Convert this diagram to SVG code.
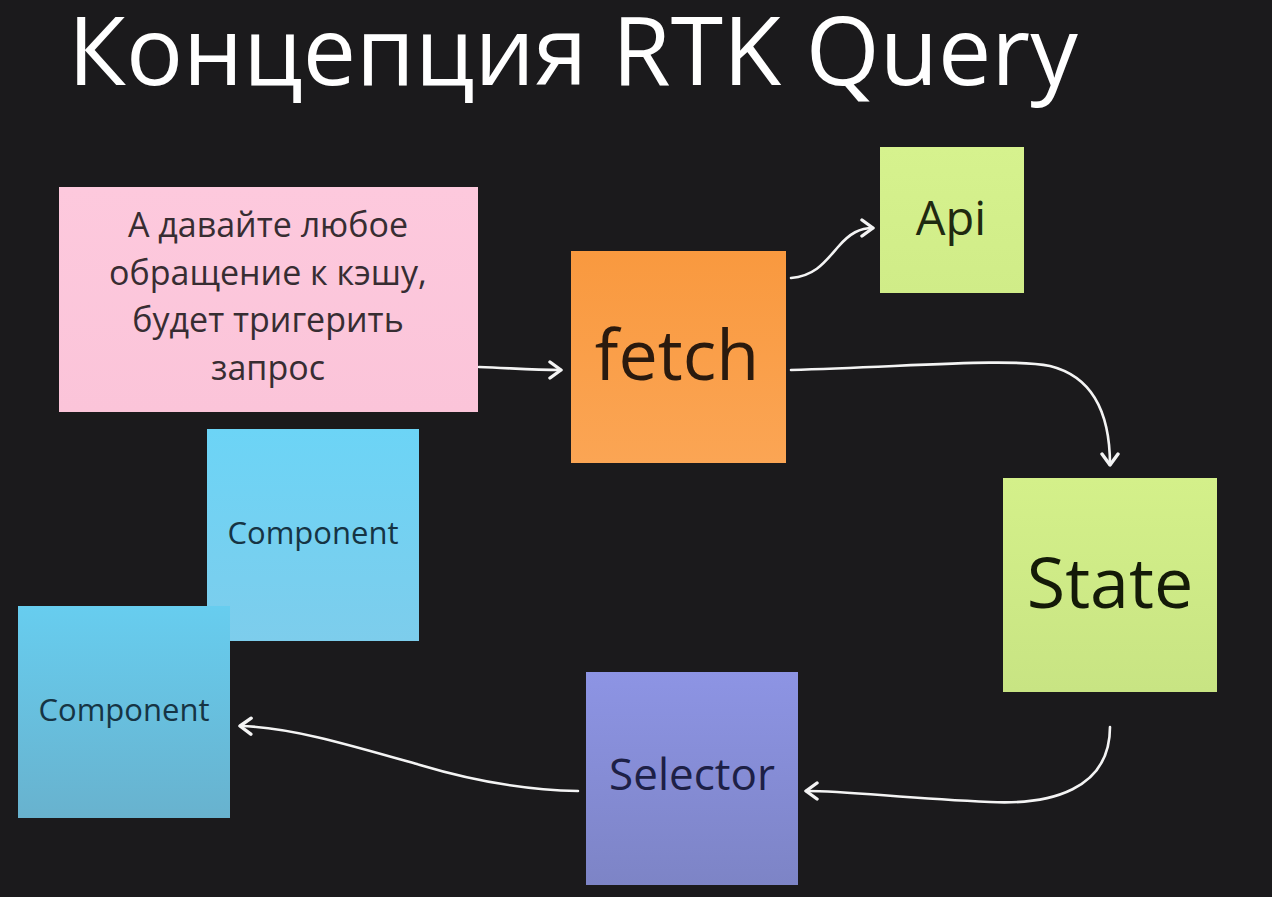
<svg xmlns="http://www.w3.org/2000/svg" width="1272" height="897" viewBox="0 0 1272 897">
<defs>
<style>
.t{font-family:"Open Sans","Noto Sans","DejaVu Sans",sans-serif;text-anchor:middle}
.c{fill:none;stroke:#f4f4f4;stroke-width:2.6;stroke-linecap:round}
</style>
<linearGradient id="gPink" x1="0" y1="0" x2="0" y2="1"><stop offset="0" stop-color="#fdc9dd"/><stop offset="1" stop-color="#fbc4d9"/></linearGradient>
<linearGradient id="gOrange" x1="0" y1="0" x2="0" y2="1"><stop offset="0" stop-color="#f9993f"/><stop offset="1" stop-color="#fba554"/></linearGradient>
<linearGradient id="gGreen" x1="0" y1="0" x2="0" y2="1"><stop offset="0" stop-color="#d6f28e"/><stop offset="1" stop-color="#d0ec88"/></linearGradient>
<linearGradient id="gState" x1="0" y1="0" x2="0" y2="1"><stop offset="0" stop-color="#d4f08a"/><stop offset="1" stop-color="#c8e483"/></linearGradient>
<linearGradient id="gBlue1" x1="0" y1="0" x2="0" y2="1"><stop offset="0" stop-color="#6cd4f6"/><stop offset="1" stop-color="#7dcdec"/></linearGradient>
<linearGradient id="gBlue2" x1="0" y1="0" x2="0" y2="1"><stop offset="0" stop-color="#67cdef"/><stop offset="1" stop-color="#68b2ce"/></linearGradient>
<linearGradient id="gPurple" x1="0" y1="0" x2="0" y2="1"><stop offset="0" stop-color="#8d94e4"/><stop offset="1" stop-color="#7d84c6"/></linearGradient>
<marker id="arr" viewBox="-14 -11 16 22" refX="0" refY="0" markerWidth="16" markerHeight="22" markerUnits="userSpaceOnUse" orient="auto">
<path d="M-11,-8 L0,0 L-11,8" fill="none" stroke="#f4f4f4" stroke-width="3.4" stroke-linecap="round" stroke-linejoin="round"/>
</marker>
</defs>
<rect x="0" y="0" width="1272" height="897" fill="#1b1a1c"/>
<text x="68" y="85" font-family="Open Sans, Noto Sans, sans-serif" font-size="95" fill="#ffffff">Концепция RTK Query</text>

<g id="connectors">
<path class="c" marker-end="url(#arr)" d="M479,367 C510,368 530,370 561,370"/>
<path class="c" marker-end="url(#arr)" d="M791,278 C815,276 825,262 838,247 C850,233 860,228 873,228"/>
<path class="c" marker-end="url(#arr)" d="M791,370 C920,366 1010,358 1050,366 C1090,376 1110,410 1110,465"/>
<path class="c" marker-end="url(#arr)" d="M1110,727 C1110,790 1050,805 990,802 C900,798 850,791 806,791"/>
<path class="c" marker-end="url(#arr)" d="M578,791 C520,790 470,780 420,765 C350,745 290,727 240,726"/>
</g>

<g id="pink">
<rect x="59" y="187" width="419" height="225" fill="url(#gPink)"/>
<text class="t" font-size="34" fill="#372d32"><tspan x="268" y="237">А давайте любое</tspan><tspan x="268" y="285">обращение к кэшу,</tspan><tspan x="268" y="332">будет тригерить</tspan><tspan x="268" y="380">запрос</tspan></text>
</g>
<g id="fetch">
<rect x="571" y="251" width="215" height="212" fill="url(#gOrange)"/>
<text class="t" x="677" y="380" font-size="70" fill="#2a1a0e">fetch</text>
</g>
<g id="api">
<rect x="880" y="147" width="144" height="146" fill="url(#gGreen)"/>
<text class="t" x="951" y="235" font-size="47" fill="#1f2a10">Api</text>
</g>
<g id="state">
<rect x="1003" y="478" width="214" height="214" fill="url(#gState)"/>
<text class="t" x="1110" y="608" font-size="70" fill="#141a08">State</text>
</g>
<g id="component1">
<rect x="207" y="429" width="212" height="212" fill="url(#gBlue1)"/>
<text class="t" x="313" y="544" font-size="31" fill="#163444">Component</text>
</g>
<g id="component2">
<rect x="18" y="606" width="212" height="212" fill="url(#gBlue2)"/>
<text class="t" x="124" y="721" font-size="31" fill="#163444">Component</text>
</g>
<g id="selector">
<rect x="586" y="672" width="212" height="213" fill="url(#gPurple)"/>
<text class="t" x="692" y="790" font-size="44" fill="#1d2046">Selector</text>
</g>
</svg>
